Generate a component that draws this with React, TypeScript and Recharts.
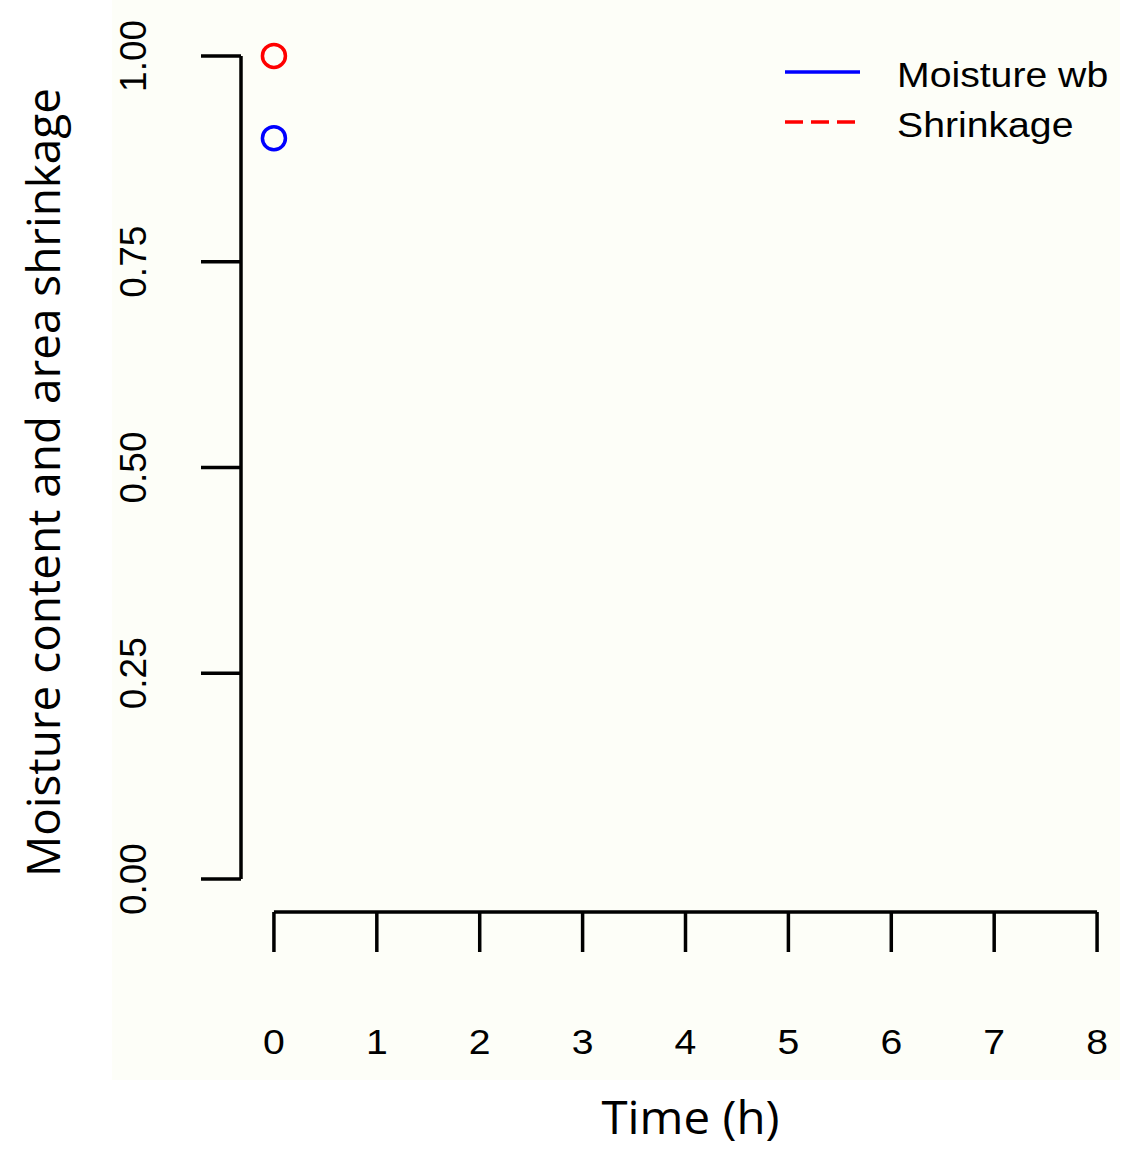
import React from "react";
import {
  ComposedChart,
  Line,
  XAxis,
  YAxis,
  ReferenceLine,
  Legend,
  Label,
} from "recharts";

// values: only the first sample (t = 0) is drawn
const timeHours = [0];
const moistureWb = [0.9];
const shrinkage = [1.0];

const xTicks = [0, 1, 2, 3, 4, 5, 6, 7, 8];
const yTicks = [0, 0.25, 0.5, 0.75, 1];

const data = timeHours.map((t, i) => ({
  time: t,
  moisture: moistureWb[i],
  shrinkage: shrinkage[i],
}));

const BLUE = "#0000ff";
const RED = "#ff0000";
const R_FONT = "'Liberation Sans', Arial, sans-serif";
const TITLE_FONT = "'Open Sans', 'Noto Sans', sans-serif";
const LW = 3.5;

function YTick({ x, y, payload }: any) {
  // R style: rotated labels, parallel to the axis
  const bx = x - 55;
  return (
    <text
      x={bx}
      y={y}
      transform={`rotate(-90, ${bx}, ${y})`}
      textAnchor="middle"
      fontFamily={R_FONT}
      fontSize={37}
      fill="#000"
    >
      {Number(payload.value).toFixed(2)}
    </text>
  );
}

function XTick({ x, y, payload }: any) {
  return (
    <text
      transform={`translate(${x}, ${y + 102}) scale(1.12, 1)`}
      textAnchor="middle"
      fontFamily={R_FONT}
      fontSize={35}
      fill="#000"
    >
      {payload.value}
    </text>
  );
}

function LegendBox({ payload }: any) {
  return (
    <svg width={360} height={120}>
      {(payload || []).map((entry: any, i: number) => (
        <g key={entry.value}>
          <line
            x1={5}
            x2={80}
            y1={32 + 50 * i}
            y2={32 + 50 * i}
            stroke={entry.color}
            strokeWidth={LW}
            strokeDasharray={entry.payload?.strokeDasharray}
          />
          <text
            transform={`translate(117, ${47 + 50 * i}) scale(1.12, 1)`}
            fontFamily={R_FONT}
            fontSize={35}
            fill="#000"
          >
            {entry.value}
          </text>
        </g>
      ))}
    </svg>
  );
}

export default function App() {
  return (
    <div
      style={{
        position: "absolute",
        left: 0,
        top: 0,
        width: 1137,
        height: 1150,
        background: "#ffffff",
      }}
    >
      <div
        style={{
          position: "absolute",
          left: 112,
          top: 0,
          width: 1008,
          height: 1080,
          background: "#fdfef8",
        }}
      />
      <div style={{ position: "absolute", left: 0, top: 0 }}>
        <ComposedChart
          width={1137}
          height={1150}
          data={data}
          margin={{ top: 23, right: 7, bottom: 0, left: 0 }}
        >
          <XAxis
            type="number"
            dataKey="time"
            domain={[-0.32, 8.32]}
            ticks={xTicks}
            interval={0}
            height={238}
            axisLine={false}
            tickSize={40}
            tickMargin={0}
            tickLine={{ stroke: "#000", strokeWidth: LW }}
            tick={<XTick />}
          >
            <Label
              content={({ viewBox }: any) => (
                <text
                  x={viewBox.x + viewBox.width / 2 + 5}
                  y={viewBox.y + 222}
                  textAnchor="middle"
                  fontFamily={TITLE_FONT}
                  fontSize={45}
                  textLength={178}
                  lengthAdjust="spacingAndGlyphs"
                  fill="#000"
                >
                  Time (h)
                </text>
              )}
            />
          </XAxis>
          <YAxis
            type="number"
            domain={[-0.04, 1.04]}
            ticks={yTicks}
            interval={0}
            width={241}
            axisLine={false}
            tickSize={40}
            tickMargin={0}
            tickLine={{ stroke: "#000", strokeWidth: LW }}
            tick={<YTick />}
          >
            <Label
              content={({ viewBox }: any) => {
                const cx = 60;
                const cy = viewBox.y + viewBox.height / 2 + 15;
                return (
                  <text
                    x={cx}
                    y={cy}
                    transform={`rotate(-90, ${cx}, ${cy})`}
                    textAnchor="middle"
                    fontFamily={TITLE_FONT}
                    fontSize={46}
                    textLength={789}
                    lengthAdjust="spacingAndGlyphs"
                    fill="#000"
                  >
                    Moisture content and area shrinkage
                  </text>
                );
              }}
            />
          </YAxis>
          {/* R draws axis lines only from first to last tick */}
          <ReferenceLine
            segment={[
              { x: -0.32, y: 0 },
              { x: -0.32, y: 1 },
            ]}
            stroke="#000"
            strokeWidth={LW}
            ifOverflow="visible"
          />
          <ReferenceLine
            segment={[
              { x: 0, y: -0.04 },
              { x: 8, y: -0.04 },
            ]}
            stroke="#000"
            strokeWidth={LW}
            ifOverflow="visible"
          />
          <Legend
            layout="horizontal"
            verticalAlign="middle"
            align="center"
            wrapperStyle={{ top: 40, left: 780, width: 360 }}
            content={<LegendBox />}
          />
          <Line
            name="Moisture wb"
            dataKey="moisture"
            stroke={BLUE}
            strokeWidth={LW}
            dot={{ r: 11.5, stroke: BLUE, strokeWidth: LW, fill: "none" }}
            activeDot={false}
            isAnimationActive={false}
          />
          <Line
            name="Shrinkage"
            dataKey="shrinkage"
            stroke={RED}
            strokeWidth={LW}
            strokeDasharray="18 8"
            dot={{
              r: 11.5,
              stroke: RED,
              strokeWidth: LW,
              fill: "none",
              strokeDasharray: "none",
            }}
            activeDot={false}
            isAnimationActive={false}
          />
        </ComposedChart>
      </div>
    </div>
  );
}
